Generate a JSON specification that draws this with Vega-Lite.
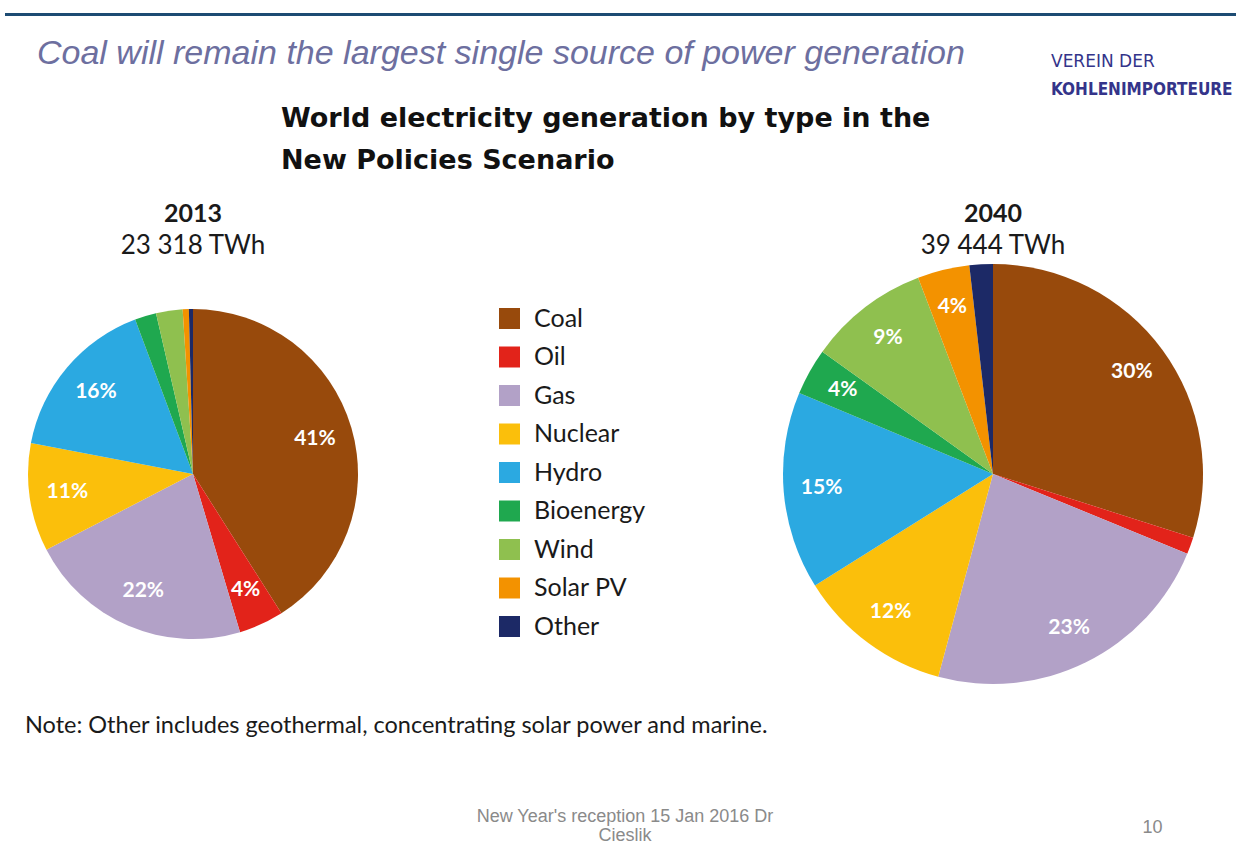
{
  "$schema": "https://vega.github.io/schema/vega-lite/v6.json",
  "background": "white",
  "padding": {"left": 5, "top": 11, "right": 0, "bottom": 0},
  "spacing": 6,
  "config": {"view": {"stroke": null}},
  "datasets": {
    "energy": [
      {"year": 2013, "type": "Coal", "rank": 1, "share": 41.0, "label": "41%"},
      {"year": 2013, "type": "Oil", "rank": 2, "share": 4.4, "label": "4%"},
      {"year": 2013, "type": "Gas", "rank": 3, "share": 22.0, "label": "22%"},
      {"year": 2013, "type": "Nuclear", "rank": 4, "share": 10.6, "label": "11%"},
      {"year": 2013, "type": "Hydro", "rank": 5, "share": 16.3, "label": "16%"},
      {"year": 2013, "type": "Bioenergy", "rank": 6, "share": 2.1, "label": ""},
      {"year": 2013, "type": "Wind", "rank": 7, "share": 2.6, "label": ""},
      {"year": 2013, "type": "Solar PV", "rank": 8, "share": 0.6, "label": ""},
      {"year": 2013, "type": "Other", "rank": 9, "share": 0.4, "label": ""},
      {"year": 2040, "type": "Coal", "rank": 1, "share": 29.9, "label": "30%"},
      {"year": 2040, "type": "Oil", "rank": 2, "share": 1.3, "label": ""},
      {"year": 2040, "type": "Gas", "rank": 3, "share": 23.0, "label": "23%"},
      {"year": 2040, "type": "Nuclear", "rank": 4, "share": 11.9, "label": "12%"},
      {"year": 2040, "type": "Hydro", "rank": 5, "share": 15.2, "label": "15%"},
      {"year": 2040, "type": "Bioenergy", "rank": 6, "share": 3.6, "label": "4%"},
      {"year": 2040, "type": "Wind", "rank": 7, "share": 9.3, "label": "9%"},
      {"year": 2040, "type": "Solar PV", "rank": 8, "share": 4.0, "label": "4%"},
      {"year": 2040, "type": "Other", "rank": 9, "share": 1.8, "label": ""}
    ]
  },
  "vconcat": [
    {
      "spacing": 0,
      "hconcat": [
        {
          "width": 1040, "height": 3,
          "view": {"fill": "#1d4b73", "stroke": null},
          "data": {"values": [{}]},
          "mark": {"type": "point", "opacity": 0},
          "encoding": {},
          "title": {"text": "Coal will remain the largest single source of power generation", "orient": "bottom", "anchor": "start", "dx": 32, "offset": 20, "font": "Liberation Sans", "fontStyle": "italic", "fontWeight": "normal", "fontSize": 34, "color": "#6d6f9f"}
        },
        {
          "width": 191, "height": 3,
          "view": {"fill": "#1d4b73", "stroke": null},
          "data": {"values": [{}]},
          "mark": {"type": "point", "opacity": 0},
          "encoding": {},
          "title": {"text": "VEREIN  DER", "subtitle": "KOHLENIMPORTEURE", "orient": "bottom", "anchor": "start", "dx": 6, "offset": 37, "font": "DejaVu Sans", "fontSize": 17, "fontWeight": "normal", "color": "#34348a", "subtitleFont": "DejaVu Sans Condensed", "subtitleFontSize": 17, "subtitleFontWeight": "bold", "subtitleColor": "#34348a", "subtitlePadding": 11}
        }
      ]
    },
    {
      "spacing": 0,
      "bounds": "flush",
      "resolve": {"scale": {"color": "shared"}, "legend": {"color": "independent"}},
      "title": {"text": "Note: Other includes geothermal, concentrating solar power and marine.", "orient": "bottom", "anchor": "start", "dx": 20, "offset": 30, "font": "Lato", "fontSize": 23.5, "fontWeight": "normal", "color": "#1a1a1a"},
      "hconcat": [
        {
          "width": 376, "height": 420,
          "data": {"name": "energy"},
          "transform": [{"filter": "datum.year == 2013"}],
          "title": {"text": "2013", "subtitle": "23 318 TWh", "anchor": "middle", "offset": 5, "font": "Lato", "fontSize": 25, "fontWeight": "bold", "color": "#1a1a1a", "subtitleFont": "Lato", "subtitleFontSize": 26, "subtitleColor": "#1a1a1a", "subtitlePadding": 6},
          "encoding": {
            "theta": {"field": "share", "type": "quantitative", "stack": true},
            "order": {"field": "rank", "type": "quantitative", "sort": "ascending"},
            "color": {"field": "type", "type": "nominal", "legend": null,
              "scale": {"domain": ["Coal", "Oil", "Gas", "Nuclear", "Hydro", "Bioenergy", "Wind", "Solar PV", "Other"],
                        "range": ["#984a0c", "#e2231a", "#b2a1c7", "#fbbf0b", "#2ba9e1", "#1fa84f", "#8fc04f", "#f39200", "#1c2966"]}}
          },
          "layer": [
            {"mark": {"type": "arc", "outerRadius": 165}},
            {"mark": {"type": "text", "radius": 127, "font": "Lato", "fontWeight": "bold", "fontSize": 21},
             "encoding": {"text": {"field": "label"}, "color": {"value": "white"}, "detail": {"field": "type"}}}
          ]
        },
        {
          "width": 392, "height": 420,
          "data": {"name": "energy"},
          "transform": [{"filter": "datum.year == 2013"}],
          "title": {"text": ["World electricity generation by type in the", "New Policies Scenario"], "anchor": "start", "align": "left", "dx": -100, "offset": 89, "font": "DejaVu Sans", "fontSize": 27, "fontWeight": "bold", "color": "#111111", "lineHeight": 42},
          "mark": {"type": "square", "opacity": 0},
          "encoding": {
            "color": {"field": "type", "type": "nominal",
              "scale": {"domain": ["Coal", "Oil", "Gas", "Nuclear", "Hydro", "Bioenergy", "Wind", "Solar PV", "Other"],
                        "range": ["#984a0c", "#e2231a", "#b2a1c7", "#fbbf0b", "#2ba9e1", "#1fa84f", "#8fc04f", "#f39200", "#1c2966"]},
              "legend": {"orient": "none", "legendX": 116, "legendY": 42, "title": null, "symbolType": "square", "symbolSize": 441, "symbolOpacity": 1, "symbolStrokeWidth": 0, "labelFont": "Lato", "labelFontSize": 25, "labelColor": "#1a1a1a", "labelOffset": 12, "rowPadding": 12.5, "padding": 0, "labelLimit": 300}}
          }
        },
        {
          "width": 440, "height": 420,
          "data": {"name": "energy"},
          "transform": [{"filter": "datum.year == 2040"}],
          "title": {"text": "2040", "subtitle": "39 444 TWh", "anchor": "middle", "offset": 5, "font": "Lato", "fontSize": 25, "fontWeight": "bold", "color": "#1a1a1a", "subtitleFont": "Lato", "subtitleFontSize": 26, "subtitleColor": "#1a1a1a", "subtitlePadding": 6},
          "encoding": {
            "theta": {"field": "share", "type": "quantitative", "stack": true},
            "order": {"field": "rank", "type": "quantitative", "sort": "ascending"},
            "color": {"field": "type", "type": "nominal", "legend": null,
              "scale": {"domain": ["Coal", "Oil", "Gas", "Nuclear", "Hydro", "Bioenergy", "Wind", "Solar PV", "Other"],
                        "range": ["#984a0c", "#e2231a", "#b2a1c7", "#fbbf0b", "#2ba9e1", "#1fa84f", "#8fc04f", "#f39200", "#1c2966"]}}
          },
          "layer": [
            {"mark": {"type": "arc", "outerRadius": 210}},
            {"mark": {"type": "text", "radius": 172, "font": "Lato", "fontWeight": "bold", "fontSize": 21},
             "encoding": {"text": {"field": "label"}, "color": {"value": "white"}, "detail": {"field": "type"}}}
          ]
        }
      ]
    },
    {
      "spacing": 0,
      "hconcat": [
        {
          "width": 1000, "height": 55,
          "data": {"values": [{}]},
          "mark": {"type": "point", "opacity": 0},
          "encoding": {},
          "title": {"text": ["New Year's reception 15 Jan 2016 Dr", "Cieslik"], "orient": "bottom", "anchor": "middle", "dx": 120, "offset": 9, "font": "Liberation Sans", "fontSize": 18, "fontWeight": "normal", "color": "#8a8a8a", "lineHeight": 19}
        },
        {
          "width": 231, "height": 55,
          "data": {"values": [{}]},
          "mark": {"type": "point", "opacity": 0},
          "encoding": {},
          "title": {"text": "10", "orient": "bottom", "anchor": "middle", "dx": 32, "offset": 20, "font": "Liberation Sans", "fontSize": 18, "fontWeight": "normal", "color": "#8a8a8a"}
        }
      ]
    }
  ]
}
